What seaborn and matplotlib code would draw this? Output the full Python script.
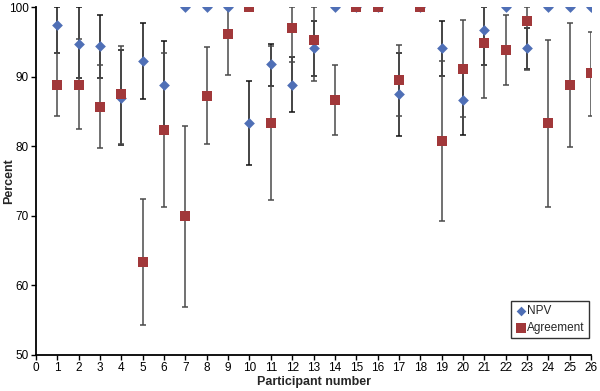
import numpy as np
import pandas as pd
import matplotlib
matplotlib.use("Agg")
import matplotlib.pyplot as plt
import seaborn as sns

participants = list(range(1, 27))
npv =      [97.4, 94.8, 94.5, 87.0, 92.3, 88.9, 100, 100, 100, 83.3, 91.8, 88.9, 94.1,
            100, 100, 100, 87.5, 100, 94.1, 86.7, 96.7, 100, 94.1, 100, 100, 100]
npv_lo =   [93.4, 89.8, 89.9, 80.2, 86.8, 82.6, 100, 100, 100, 77.3, 88.7, 84.9, 90.1,
            100, 100, 100, 81.5, 100, 90.1, 81.7, 91.7, 100, 91.1, 100, 100, 100]
npv_hi =   [100, 100, 98.9, 93.9, 97.8, 95.1, 100, 100, 100, 89.4, 94.7, 92.9, 98.1,
            100, 100, 100, 93.5, 100, 98.1, 91.7, 100, 100, 97.1, 100, 100, 100]
agree =    [88.9, 88.9, 85.7, 87.5, 63.3, 82.3, 70.0, 87.3, 96.2, 100, 83.3, 97.1, 95.3,
            86.7, 100, 100, 89.5, 100, 80.8, 91.2, 94.9, 93.8, 98.0, 83.3, 88.8, 90.5]
agree_lo = [84.4, 82.5, 79.7, 80.4, 54.3, 71.3, 56.9, 80.3, 90.2, 100, 72.3, 92.1, 89.4,
            81.7, 100, 100, 84.4, 100, 69.2, 84.2, 86.9, 88.8, 91.0, 71.3, 79.9, 84.4]
agree_hi = [93.4, 95.5, 91.7, 94.5, 72.4, 93.4, 82.9, 94.3, 100, 100, 94.4, 100, 100,
            91.7, 100, 100, 94.6, 100, 92.3, 98.2, 100, 98.9, 100, 95.3, 97.8, 96.5]

series_names = ["NPV", "Agreement"]

df = pd.DataFrame({
    "Participant": participants * 2,
    "Percent": npv + agree,
    "lo": npv_lo + agree_lo,
    "hi": npv_hi + agree_hi,
    "Series": [series_names[0]] * 26 + [series_names[1]] * 26,
})

sns.set_style("ticks")
plt.rcParams["font.family"] = ["Liberation Sans", "DejaVu Sans"]

fig = plt.figure(figsize=(6.0, 3.91), dpi=100)
ax = fig.add_axes([0.06, 0.093, 0.925, 0.888])

err_colors = {"NPV": "#111111", "Agreement": "#4a4a4a"}
for name in series_names:
    sub = df[df["Series"] == name]
    yerr = np.vstack([sub["Percent"] - sub["lo"], sub["hi"] - sub["Percent"]])
    ax.errorbar(sub["Participant"], sub["Percent"], yerr=yerr, fmt="none",
                ecolor=err_colors[name], elinewidth=1.1, capsize=2.4,
                capthick=1.1, zorder=1)

palette = {"NPV": "#4f6fb6", "Agreement": "#a1383a"}
sns.scatterplot(data=df[df["Series"] == "NPV"], x="Participant", y="Percent",
                color=palette["NPV"], marker="D", s=30, linewidth=0,
                ax=ax, zorder=3, label="NPV")
sns.scatterplot(data=df[df["Series"] == "Agreement"], x="Participant", y="Percent",
                color=palette["Agreement"], marker="s", s=62, linewidth=0,
                ax=ax, zorder=4, label="Agreement")

ax.set_xlim(0, 26)
ax.set_ylim(50, 100)
ax.set_xticks(range(0, 27))
ax.set_yticks(range(50, 101, 10))
ax.tick_params(axis="both", labelsize=8.5, length=3.5, width=1, direction="out",
               pad=1.5, color="black", labelcolor="black")
for s in ["left", "bottom"]:
    ax.spines[s].set_linewidth(1.3)
    ax.spines[s].set_color("black")
sns.despine(ax=ax)
ax.set_xlabel("Participant number", fontsize=9, fontweight="bold", labelpad=2)
ax.set_ylabel("Percent", fontsize=9, fontweight="bold")
ax.yaxis.set_label_coords(-0.037, 0.5)

leg = ax.legend(loc="lower right", bbox_to_anchor=(1.0, 0.04), fontsize=8.5,
                frameon=True, fancybox=False, handletextpad=0.0,
                borderpad=0.35, labelspacing=0.45, handlelength=1.0,
                borderaxespad=0.2, markerscale=0.9)
leg.get_frame().set_edgecolor("black")
leg.get_frame().set_linewidth(1.0)

fig.savefig("out.png", dpi=100)
